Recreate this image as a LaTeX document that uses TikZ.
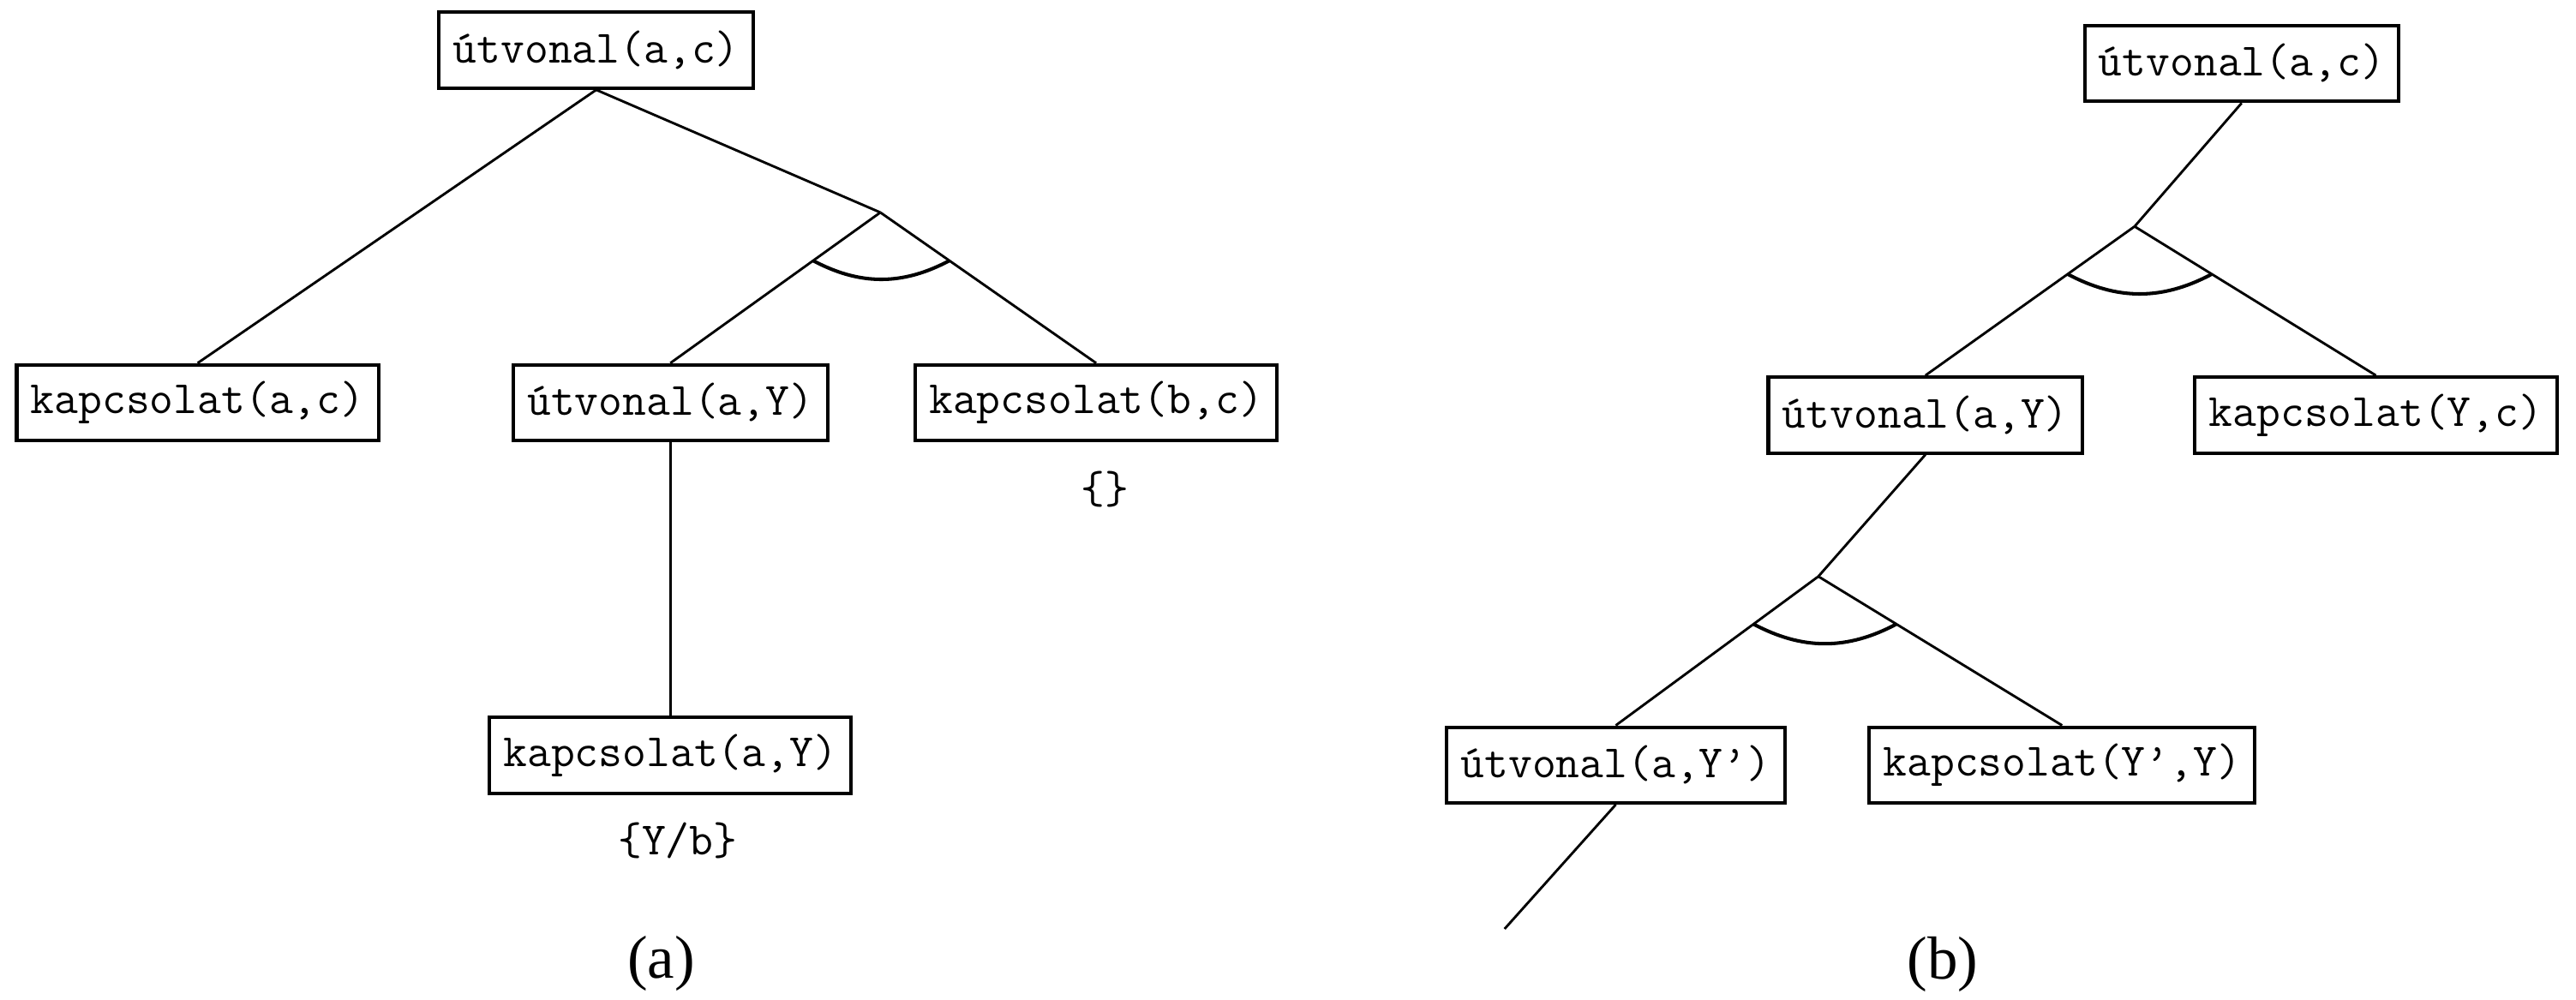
\documentclass[tikz,border=0pt]{standalone}
\usepackage{fontspec}
\setmainfont{Liberation Serif}
\usetikzlibrary{positioning, calc}
\tikzstyle{goal} = [rectangle, draw=black, line width=1.2pt, minimum height=0.92cm, inner xsep=0.17cm, text centered, font=\fontsize{16}{19}\ttfamily]
\tikzstyle{subst} = [font=\fontsize{16}{19}\ttfamily]
\tikzstyle{caption} = [font=\fontsize{21}{25}\selectfont]
\tikzstyle{branch} = [line width=0.85pt]
\tikzstyle{andarc} = [line width=1.2pt, bend right=28]

\begin{document}
\begin{tikzpicture}
\useasboundingbox (0,0) rectangle (31.28,12.14);

% (a)
\node (ra) [goal] at (7.24,11.53) {útvonal(a,c)};
\node (ka) [goal] at (2.40,7.25) {kapcsolat(a,c)};
\node (ua) [goal] at (8.14,7.25) {útvonal(a,Y)};
\node (kbc) [goal] at (13.31,7.25) {kapcsolat(b,c)};
\coordinate (ja) at (10.69,9.56);
\node (kay) [goal, below=3.32cm of ua] {kapcsolat(a,Y)};

\node (empty) [subst] at (13.42,6.2) {\{\}};
\node (yb) [subst] at (8.23,1.93) {\{Y/b\}};
\node (capa) [caption] at (8.03,0.44) {(a)};

\draw [branch] (ra.south) -- (ka.north);
\draw [branch] (ra.south) -- (ja);
\draw [branch] (ja) -- (ua.north);
\draw [branch] (ja) -- (kbc.north);
\draw [branch] (ua.south) -- (kay.north);
\draw [andarc] ($(ja)!0.32!(ua.north)$) to ($(ja)!0.32!(kbc.north)$);

% (b)
\node (rb) [goal] at (27.22,11.37) {útvonal(a,c)};
\coordinate (jb) at (25.92,9.39);
\node (ub) [goal] at (23.38,7.10) {útvonal(a,Y)};
\node (kyc) [goal] at (28.85,7.10) {kapcsolat(Y,c)};
\coordinate (jc) at (22.08,5.14);
\node (uyp) [goal] at (19.62,2.85) {útvonal(a,Y’)};
\node (kypy) [goal] at (25.04,2.85) {kapcsolat(Y’,Y)};
\coordinate (tail) at (18.27,0.86);
\node (capb) [caption] at (23.59,0.43) {(b)};

\draw [branch] (rb.south) -- (jb);
\draw [branch] (jb) -- (ub.north);
\draw [branch] (jb) -- (kyc.north);
\draw [andarc] ($(jb)!0.32!(ub.north)$) to ($(jb)!0.32!(kyc.north)$);
\draw [branch] (ub.south) -- (jc);
\draw [branch] (jc) -- (uyp.north);
\draw [branch] (jc) -- (kypy.north);
\draw [andarc] ($(jc)!0.32!(uyp.north)$) to ($(jc)!0.32!(kypy.north)$);
\draw [branch] (uyp.south) -- (tail);

\end{tikzpicture}
\end{document}
